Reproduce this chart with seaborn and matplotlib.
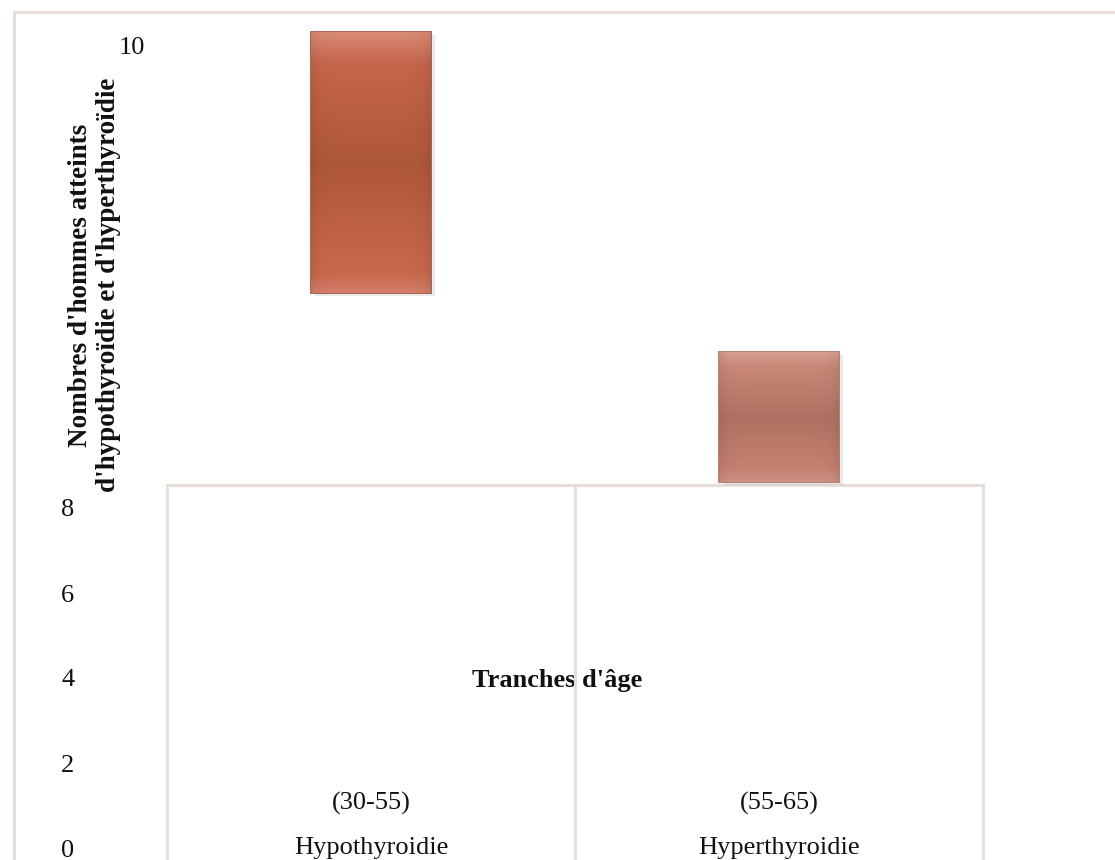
import numpy as np
import pandas as pd
import matplotlib
matplotlib.use("Agg")
import matplotlib.pyplot as plt
import matplotlib.patheffects as pe
from matplotlib.colors import LinearSegmentedColormap
from matplotlib.patches import Rectangle
import seaborn as sns

# ---- data -------------------------------------------------------------
categories = ["Hypothyroidie", "Hyperthyroidie"]
age_ranges = ["(30-55)", "(55-65)"]
counts = [6, 3]
y_ticks = [0, 2, 4, 6, 8]
top_tick = [10]
x_title = "Tranches d'âge"
y_title = "Nombres d'hommes atteints\nd'hypothyroïdie et d'hyperthyroïdie"

df = pd.DataFrame({"maladie": categories, "tranche": age_ranges, "effectif": counts})

# ---- style ------------------------------------------------------------
sns.set_theme(style="white")
plt.rcParams["font.family"] = ["Liberation Serif", "DejaVu Serif"]
FS = 19
BEIGE = "#e7ded9"
bar_stops = [
    [(0.0, "#d27e68"), (0.07, "#c9684f"), (0.5, "#af5739"), (0.88, "#c5654c"), (1.0, "#d88a74")],
    [(0.0, "#cd9384"), (0.10, "#c58070"), (0.5, "#b07262"), (0.88, "#c98878"), (1.0, "#daa191")],
]
bar_edges = ["#9c4a33", "#a46a5b"]

W, H = 1115, 860
fig = plt.figure(figsize=(W / 100, H / 100), dpi=100)
fig.patch.set_facecolor("white")


def px_rect(left, top, right, bottom):
    """Figure-fraction rectangle from pixel edges (origin top-left)."""
    return [left / W, 1 - bottom / H, (right - left) / W, (bottom - top) / H]


# outer frame
fig.add_artist(Rectangle((13.5 / W, -0.2), 2.0, 1.2 - 11.5 / H, transform=fig.transFigure,
                         fill=False, edgecolor=BEIGE, linewidth=2.2, zorder=0))

# ---- main plot box ----------------------------------------------------
UNIT = 42.5          # pixels per count on the value axis
ZERO = 848           # pixel row of the zero tick
BOX_L, BOX_R, BOX_T = 167.3, 983.3, 485.3
Y_MIN = -0.5
BOX_B = ZERO - Y_MIN * UNIT

ax = fig.add_axes(px_rect(BOX_L, BOX_T, BOX_R, BOX_B))
ax.set_xlim(-0.5, len(categories) - 0.5)
ax.set_ylim(Y_MIN, (ZERO - BOX_T) / UNIT)
ax.set_facecolor("none")
ax.grid(False)
for side in ["left", "top", "right"]:
    ax.spines[side].set_color(BEIGE)
    ax.spines[side].set_linewidth(2.2)
ax.spines["bottom"].set_visible(False)

ax.set_yticks(y_ticks)
ax.set_yticklabels([str(v) for v in y_ticks], fontsize=FS, color="#111111")
ax.tick_params(axis="y", length=0, pad=67)

ax.set_xticks(range(len(categories)))
ax.set_xticklabels([f"{a}\n{c}" for a, c in zip(age_ranges, categories)],
                   fontsize=FS, color="#111111", linespacing=2.3)
ax.tick_params(axis="x", length=0, pad=-56)

ax.axvline(0.5, color=BEIGE, linewidth=2.2, zorder=5)

ax.set_xlabel(x_title, fontsize=FS, fontweight="bold", color="#111111")
ax.xaxis.set_label_coords((557 - BOX_L) / (BOX_R - BOX_L), (BOX_B - 669) / (BOX_B - BOX_T))
ax.set_ylabel(y_title, fontsize=FS + 0.5, fontweight="bold", color="#111111", linespacing=1.15)
ax.yaxis.set_label_coords((121 - BOX_L) / (BOX_R - BOX_L), (BOX_B - 285) / (BOX_B - BOX_T))

# ---- upper value tick ---------------------------------------------------
TOP_ROW = 46
ax10 = fig.add_axes(px_rect(BOX_L, TOP_ROW, BOX_L + 1, ZERO))
ax10.set_ylim(0, top_tick[0])
ax10.set_yticks(top_tick)
ax10.set_yticklabels([str(v) for v in top_tick], fontsize=FS, color="#111111")
ax10.tick_params(axis="y", length=0, pad=16)
ax10.set_xticks([])
ax10.patch.set_visible(False)
for s in ax10.spines.values():
    s.set_visible(False)

# ---- bars ----------------------------------------------------------------
BAR_UNIT = 43.5
bases = [293, 482]
slot = (BOX_R - BOX_L) / len(categories)


def shade(axb, patch, stops):
    cmap = LinearSegmentedColormap.from_list("bar", stops)
    ny, nx = 240, 80
    v = np.linspace(0, 1, ny)[:, None]
    rgb = cmap(v)[..., :3] * np.ones((1, nx, 1))
    u = np.linspace(-1, 1, nx)[None, :, None]
    rgb = np.clip(rgb * (1 - 0.07 * np.abs(u) ** 8), 0, 1)
    x0, y0 = patch.get_x(), patch.get_y()
    w, h = patch.get_width(), patch.get_height()
    im = axb.imshow(rgb, extent=[x0, x0 + w, y0, y0 + h], origin="lower",
                    aspect="auto", interpolation="bilinear", zorder=patch.get_zorder() + 0.5)
    im.set_clip_path(patch)


for i in range(len(categories)):
    left = BOX_L + i * slot
    val = counts[i]
    axb = fig.add_axes(px_rect(left, bases[i] - val * BAR_UNIT, left + slot, bases[i]))
    sns.barplot(data=df.iloc[[i]], x="maladie", y="effectif", ax=axb, width=0.294,
                color=bar_stops[i][2][1], edgecolor=bar_edges[i], linewidth=1.2)
    for p in axb.patches:
        p.set_clip_on(False)
        p.set_zorder(1)
        p.set_path_effects([pe.SimplePatchShadow(offset=(2.5, -2.5), shadow_rgbFace="#808080", alpha=0.16),
                            pe.Normal()])
        shade(axb, p, bar_stops[i])
    axb.set_xlim(-0.5, 0.5)
    axb.set_ylim(0, val)
    axb.axis("off")

fig.savefig("out.png", dpi=100, facecolor="white")
